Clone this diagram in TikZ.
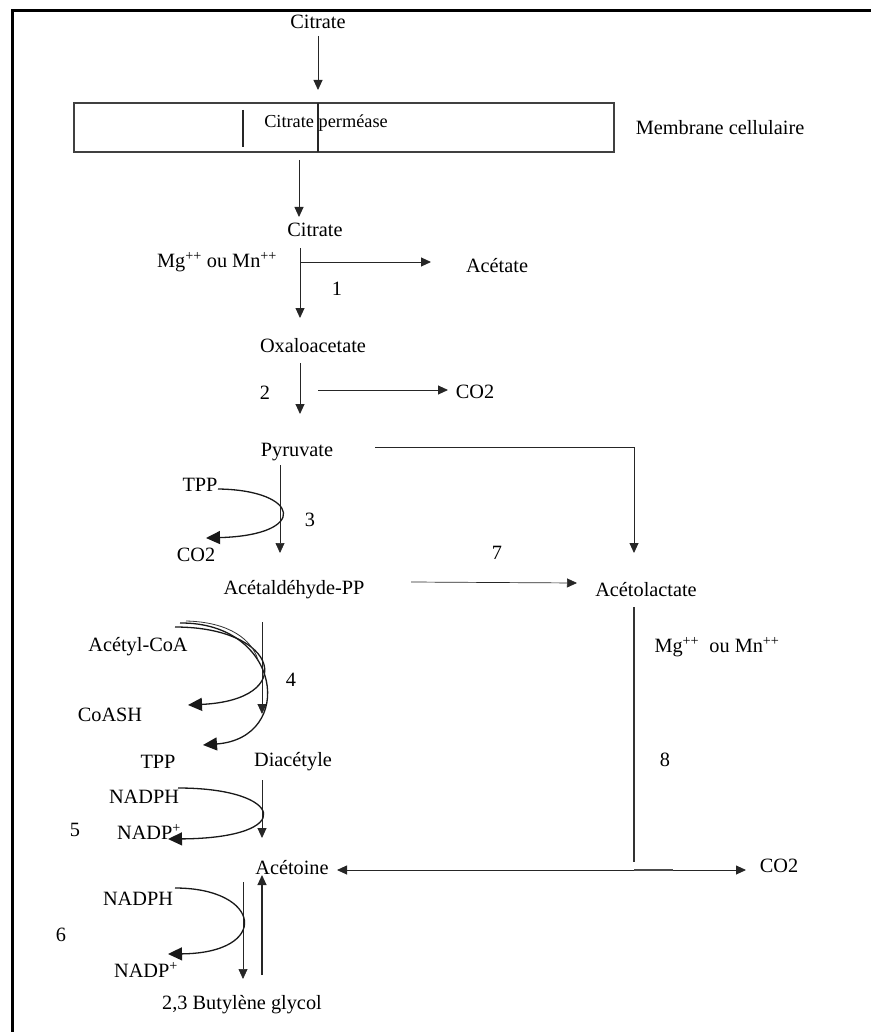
\documentclass[tikz,border=0pt]{standalone}
\usepackage{fontspec}
\setmainfont{Liberation Serif}
\usetikzlibrary{arrows.meta}
\begin{document}
\begin{tikzpicture}[x=1pt,y=-1pt,
  lbl/.style={inner sep=0pt,font=\fontsize{20.3}{22}\selectfont,text=black},
  small/.style={inner sep=0pt,font=\fontsize{18.3}{20}\selectfont,text=black},
  ln/.style={line width=0.9pt,draw=black!85},
  arr/.style={ln,-{Triangle[length=10pt,width=9pt]}},
  dbl/.style={ln,{Triangle[length=10pt,width=9pt]}-{Triangle[length=10pt,width=9pt]}},
  big/.style={line width=1.3pt,draw=black!90,-{Triangle[length=14pt,width=13pt]}},
  plain/.style={line width=1.1pt,draw=black!80}]
\useasboundingbox (0,0) rectangle (871,1032);
% frame
\draw[line width=3pt] (12,1032) -- (12,11) -- (871,11);

% ---- top : membrane
\node[lbl] (cit0) at (318,22) {Citrate};
\coordinate (c0a) at (318,36);
\coordinate (c0b) at (318,90);
\draw[arr] (c0a) -- (c0b);
\node[draw=black!75,line width=1.2pt,minimum width=540pt,minimum height=49pt,inner sep=0pt] (mem) at (344,127.5) {};
\coordinate (m1t) at (243,110); \coordinate (m1b) at (243,147);
\coordinate (m2t) at (318,103); \coordinate (m2b) at (318,152);
\draw[line width=1.4pt,black!85] (m1t) -- (m1b);
\draw[line width=1.4pt,black!85] (m2t) -- (m2b);
\node[small] (perm) at (326,123) {Citrate perméase};
\node[lbl] (memlbl) at (720,128) {Membrane cellulaire};

% ---- citrate -> oxaloacetate
\coordinate (c1a) at (299,160);
\coordinate (c1b) at (299,217);
\draw[arr] (c1a) -- (c1b);
\node[lbl] (cit1) at (315,230) {Citrate};
\node[lbl] (mg1) at (217,262) {Mg\textsuperscript{++} ou Mn\textsuperscript{++}};
\coordinate (r1a) at (300,248);
\coordinate (r1b) at (300,318);
\draw[arr] (r1a) -- (r1b);
\coordinate (h1a) at (300,262);
\coordinate (h1b) at (431,262);
\draw[arr] (h1a) -- (h1b);
\node[lbl] (acet) at (497,266) {Acétate};
\node[lbl] (n1) at (337,289) {1};
\node[lbl] (oxa) at (313,346) {Oxaloacetate};

% ---- oxaloacetate -> pyruvate
\node[lbl] (n2) at (265,393) {2};
\coordinate (r2a) at (300,363);
\coordinate (r2b) at (300,414);
\draw[arr] (r2a) -- (r2b);
\coordinate (h2a) at (318,390);
\coordinate (h2b) at (448,390);
\draw[arr] (h2a) -- (h2b);
\node[lbl] (co2a) at (475,392) {CO2};
\node[lbl] (pyr) at (297,452) {Pyruvate};

% ---- pyruvate -> acetolactate (right)
\coordinate (p7a) at (375,447);
\coordinate (p7c) at (634,447);
\coordinate (p7b) at (634,553);
\draw[arr] (p7a) -- (p7c) -- (p7b);

% ---- pyruvate -> acetaldehyde-PP
\coordinate (r3a) at (280,465);
\coordinate (r3b) at (280,553);
\draw[arr,line width=0.7pt] (r3a) -- (r3b);
\node[lbl] (tpp1) at (200,485) {TPP};
\node[lbl] (co2b) at (196,555) {CO2};
\coordinate (k3a) at (218,489);
\coordinate (k3b) at (206,538);
\draw[big] (k3a) .. controls (300,490) and (310,535) .. (k3b);
\node[lbl] (n3) at (310,520) {3};
\node[lbl] (acald) at (294,590) {Acétaldéhyde-PP};

% ---- reaction 7
\coordinate (h7a) at (411,582);
\coordinate (h7b) at (577,583);
\draw[arr,line width=0.7pt] (h7a) -- (h7b);
\node[lbl] (n7) at (497,553) {7};
\node[lbl] (acl) at (646,590) {Acétolactate};

% ---- reaction 8
\coordinate (v8a) at (634,607);
\coordinate (v8b) at (634,862);
\draw[plain] (v8a) -- (v8b);
\node[lbl] (mg2) at (717,647) {Mg\textsuperscript{++}\ \ ou Mn\textsuperscript{++}};
\node[lbl] (n8) at (665,760) {8};

% ---- acetaldehyde-PP -> diacetyle
\coordinate (r4a) at (262,622);
\coordinate (r4b) at (262,714);
\draw[arr] (r4a) -- (r4b);
\node[lbl] (acoa) at (138,647) {Acétyl-CoA};
\node[lbl] (coash) at (110,715) {CoASH};
\node[lbl] (tpp2) at (158,762) {TPP};
\coordinate (k4a) at (175,627);
\coordinate (k4b) at (188,705);
\coordinate (k4c) at (180,623);
\coordinate (k4d) at (203,745);
\coordinate (k4e) at (186,621);
\coordinate (k4f) at (258,660);
\draw[big] (k4a) .. controls (280,627) and (298,700) .. (k4b);
\draw[big] (k4c) .. controls (282,622) and (296,738) .. (k4d);
\draw[line width=0.8pt,black!80] (k4e) .. controls (230,622) and (252,640) .. (k4f);
\node[lbl] (n4) at (291,680) {4};
\node[lbl] (diac) at (293,762) {Diacétyle};

% ---- diacetyle -> acetoine
\coordinate (r5a) at (262,780);
\coordinate (r5b) at (262,838);
\draw[arr] (r5a) -- (r5b);
\node[lbl] (nadph1) at (144,797) {NADPH};
\node[lbl] (nadp1) at (149,832) {NADP\textsuperscript{+}};
\node[lbl] (n5) at (75,830) {5};
\coordinate (k5a) at (178,788);
\coordinate (k5b) at (168,839);
\draw[big] (k5a) .. controls (285,788) and (298,838) .. (k5b);
\node[lbl] (acetoin) at (292,868) {Acétoine};

% ---- acetoine <- -> CO2
\coordinate (hba) at (337,870);
\coordinate (hbb) at (746,870);
\draw[dbl] (hba) -- (hbb);
\coordinate (hsa) at (634,870);
\coordinate (hsb) at (673,870);
\draw[line width=1.6pt,black!70] (hsa) -- (hsb);
\node[lbl] (co2c) at (779,866) {CO2};

% ---- acetoine <-> butylene glycol
\coordinate (r6a) at (243,882);
\coordinate (r6b) at (243,979);
\draw[arr,line width=0.7pt] (r6a) -- (r6b);
\coordinate (u6a) at (262,975);
\coordinate (u6b) at (262,875);
\draw[arr,line width=1.1pt] (u6a) -- (u6b);
\node[lbl] (nadph2) at (138,899) {NADPH};
\node[lbl] (nadp2) at (146,970) {NADP\textsuperscript{+}};
\node[lbl] (n6) at (61,935) {6};
\coordinate (k6a) at (175,888);
\coordinate (k6b) at (168,954);
\draw[big] (k6a) .. controls (262,888) and (271,953) .. (k6b);
\node[lbl] (btg) at (242,1005) {2,3 Butylène glycol};
\end{tikzpicture}
\end{document}
